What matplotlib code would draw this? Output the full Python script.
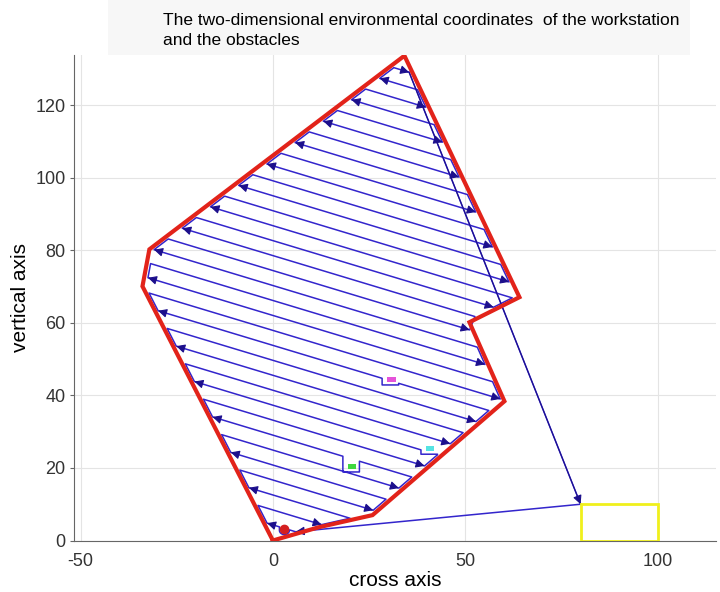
import numpy as np
import matplotlib.pyplot as plt
from matplotlib.patches import Rectangle

plt.rcParams['font.family'] = ['Liberation Sans', 'DejaVu Sans']
plt.rcParams['axes.unicode_minus'] = False

# red boundary of the working area
boundary_x = [0, 12.1, 25.9, 60.2, 51.1, 64.1, 34.2, -32.1, -33.9]
boundary_y = [0, 3.7, 7.0, 38.4, 60.2, 67.1, 133.7, 80.3, 70.1]

# workstation (yellow box)
station_x, station_y = 80, 0
station_w, station_h = 20, 10

# small obstacles
obs_x = [30.8, 40.9, 20.6]
obs_y = [44.5, 25.4, 20.5]
obs_colors = ['#e553d9', '#55e3e3', '#3fd83f']
dot_x, dot_y = 3.0, 3.1

# sweep lines of the coverage path
sweep_slope = -0.32
first_offset = 4.1
spacing = 3.93
n_lines = 34

title = ("The two-dimensional environmental coordinates  of the workstation\n"
         "and the obstacles")

BLUE = '#3325cc'
NAVY = '#1c0f8c'
RED = '#e2231a'

d = np.array([1.0, sweep_slope])
d = d / np.linalg.norm(d)
n = np.array([-d[1], d[0]])
poly = np.column_stack([boundary_x, boundary_y])


def clip_line(c, inset=1.0):
    ss = []
    for i in range(len(poly)):
        A, B = poly[i], poly[(i + 1) % len(poly)]
        a, b = n @ A - c, n @ B - c
        if a * b <= 0 and a != b:
            P = A + a / (a - b) * (B - A)
            ss.append(d @ P)
    p0 = c * n
    return p0 + (min(ss) + inset) * d, p0 + (max(ss) - inset) * d


def y_on(c, x):
    return (c - n[0] * x) / n[1]


offsets = [first_offset + spacing * k for k in range(n_lines)]

# which line runs into which obstacle
obs_line = {}
for j in range(len(obs_x)):
    co = n[0] * obs_x[j] + n[1] * obs_y[j]
    k = int(np.argmin([abs(c - co) for c in offsets]))
    obs_line[k] = j

px, py = [station_x, ], [station_y + station_h]
line_ends = []
for k, c in enumerate(offsets):
    left, right = clip_line(c)
    going_left = (k % 2 == 0)
    start, end = (right, left) if going_left else (left, right)
    seg = [tuple(start)]
    if k == 0:
        # round the red dot
        r = 1.3
        th = np.linspace(0, -np.pi, 12) if going_left else np.linspace(-np.pi, 0, 12)
        seg.append((dot_x + r, y_on(c, dot_x + r)))
        seg += [(dot_x + r * np.cos(t), dot_y - 0.3 + r * np.sin(t) * 0.9) for t in th]
        seg.append((dot_x - r, y_on(c, dot_x - r)))
    if k in obs_line:
        j = obs_line[k]
        xl, xr = obs_x[j] - 2.4, obs_x[j] + 1.9
        yb = obs_y[j] - 1.6
        det = [(xr, y_on(c, xr)), (xr, yb), (xl, yb), (xl, y_on(c, xl))]
        seg += det if going_left else det[::-1]
    seg.append(tuple(end))
    for x, y in seg:
        px.append(x)
        py.append(y)
    line_ends.append((end, -d if going_left else d))

fig = plt.figure(figsize=(7.2, 5.92), dpi=100)
fig.patches.append(Rectangle((108 / 720, 1 - 55 / 592), 582 / 720, 55 / 592,
                             transform=fig.transFigure, facecolor='#f7f7f7',
                             edgecolor='none', zorder=0))
ax = fig.add_axes([74 / 720, 51.5 / 592, 642 / 720, 485.5 / 592])

ax.plot(px, py, color=BLUE, lw=1.1, zorder=3)
# return trip to the workstation
ax.plot([px[-1], station_x], [py[-1], station_y + station_h], color=BLUE, lw=1.1, zorder=3)

arrow_kw = dict(arrowstyle='-|>', color=NAVY, lw=0.8, mutation_scale=13,
                shrinkA=0, shrinkB=0)
for end, dirv in line_ends:
    ax.annotate('', xy=end, xytext=end - dirv * 1.8, arrowprops=arrow_kw, zorder=5)
ax.annotate('', xy=(station_x, station_y + station_h),
            xytext=(px[-1], py[-1]), arrowprops=arrow_kw, zorder=5)
ax.annotate('', xy=(px[1], py[1]), xytext=(px[1] + 1.8, py[1] + 0.18),
            arrowprops=arrow_kw, zorder=5)

ax.plot(boundary_x + boundary_x[:1], boundary_y + boundary_y[:1],
        color=RED, lw=3, zorder=6, solid_joinstyle='miter')

for x, y, col in zip(obs_x, obs_y, obs_colors):
    ax.add_patch(Rectangle((x - 1.1, y - 0.7), 2.2, 1.4, facecolor=col,
                           edgecolor='none', zorder=7))
ax.plot(dot_x, dot_y, 'o', color='#d41f1f', ms=6, zorder=7)

ax.add_patch(Rectangle((station_x, station_y), station_w, station_h, fill=False,
                       edgecolor='#f0f01c', lw=2, zorder=7))

ax.set_xlim(-51.7, 115.2)
ax.set_ylim(0, 133.9)
ax.set_xticks([-50, 0, 50, 100])
ax.set_yticks(range(0, 121, 20))
ax.grid(color='#e4e4e4', lw=0.8)
ax.set_axisbelow(True)
for s in ['top', 'right']:
    ax.spines[s].set_visible(False)
for s in ['left', 'bottom']:
    ax.spines[s].set_color('#666666')
ax.tick_params(axis='y', length=3, color='#666666', labelsize=13, labelcolor='#333333', pad=3)
ax.tick_params(axis='x', length=0, labelsize=13, labelcolor='#333333', pad=9)
ax.set_xlabel('cross axis', fontsize=15, labelpad=1)
ax.set_ylabel('vertical axis', fontsize=15, labelpad=4)

fig.text(163 / 720, 1 - 13 / 592, title, fontsize=12.5, va='top', ha='left',
         linespacing=1.45)

fig.savefig('out.png', dpi=100)
